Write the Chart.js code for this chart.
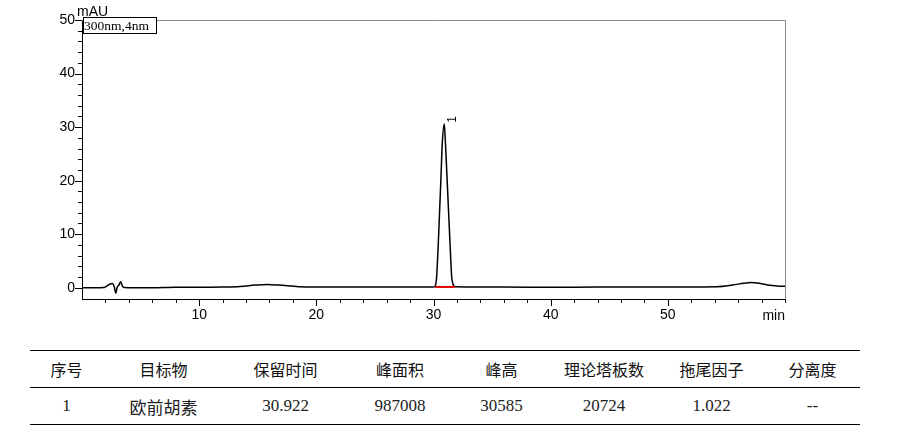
<!DOCTYPE html>
<html>
<head>
<meta charset="utf-8">
<script src="https://cdn.jsdelivr.net/npm/chart.js@4"></script>
<style>
  body { margin: 0; background: #fff; }
  #wrap { position: relative; width: 900px; height: 426px; }
  #chartBox { position: absolute; left: 0; top: 0; width: 900px; height: 330px; }
  table {
    position: absolute; left: 30px; top: 350px; width: 830px;
    border-collapse: collapse; table-layout: fixed;
    border-top: 1px solid #000; border-bottom: 1px solid #000;
  }
  td { text-align: center; padding: 0; height: 36px; color: #111; }
  tr.head td { font-family: "Noto Sans CJK SC", sans-serif; font-size: 16px; border-bottom: 1px solid #000; }
  tr.row td { font-family: "Liberation Serif", "Noto Sans CJK SC", serif; font-size: 17px; color: #222; }
</style>
</head>
<body>
<div id="wrap">
  <div id="chartBox"><canvas id="chromChart"></canvas></div>
  <table id="resultTable"></table>
</div>
<script>
// chromatogram trace (min, mAU)
const retentionTimes = [0, 1.0, 1.9, 2.1, 2.4, 2.6, 2.75, 2.88, 3.0, 3.15, 3.3, 3.45, 3.6, 4.5, 6, 8, 10, 12, 13.5, 14.8, 15.8, 16.8, 18.5, 20, 24, 28, 30.0,
  30.13, 30.22, 30.27, 30.41, 30.64, 30.75, 30.92, 31.02, 31.15, 31.41, 31.55, 31.65, 31.83,
  34, 38, 42, 46, 50, 54.2, 55.5, 56.5, 57.1, 57.8, 58.7, 59.5, 60];
const absorbance = [0, 0, 0.05, 0.3, 0.7, 0.8, 0.2, -1.0, 0.1, 0.5, 1.1, 0.3, 0.05, 0, 0, 0.1, 0.1, 0.15, 0.25, 0.5, 0.62, 0.5, 0.2, 0.15, 0.15, 0.15, 0.15,
  0.25, 1.0, 2.1, 8.3, 20.8, 27, 30.6, 27, 20.8, 8.3, 2.1, 0.8, 0.2,
  0.15, 0.1, 0.1, 0.15, 0.15, 0.2, 0.5, 0.85, 1.0, 0.85, 0.45, 0.3, 0.3];

// integration baseline under the peak
const baselineTimes = [30.13, 31.83];
const baselineValues = [0.15, 0.15];

// peak annotation
const peakNumbers = ['1'];
const peakTimes = [30.922];
const peakHeights = [30.585];

const xLabelTicks = [10, 20, 30, 40, 50];
const yLabelTicks = [0, 10, 20, 30, 40, 50];
const channelLabel = '300nm,4nm';

const tableHeaders = ['序号', '目标物', '保留时间', '峰面积', '峰高', '理论塔板数', '拖尾因子', '分离度'];
const tableRow = ['1', '欧前胡素', '30.922', '987008', '30585', '20724', '1.022', '--'];
const columnWidths = [73, 121, 123, 106, 97, 108, 107, 95];

// build the table
const table = document.getElementById('resultTable');
table.innerHTML =
  '<colgroup>' + columnWidths.map(w => `<col style="width:${w}px">`).join('') + '</colgroup>' +
  '<tr class="head">' + tableHeaders.map(h => `<td>${h}</td>`).join('') + '</tr>' +
  '<tr class="row">' + tableRow.map(v => `<td>${v}</td>`).join('') + '</tr>';

const tracePoints = retentionTimes.map((t, i) => ({ x: t, y: absorbance[i] }));
const baselinePoints = baselineTimes.map((t, i) => ({ x: t, y: baselineValues[i] }));

const axisFont = { family: 'Liberation Sans', size: 14 };

const decorations = {
  id: 'decorations',
  afterDraw(chart) {
    const { ctx, chartArea: a, scales: { x, y } } = chart;
    ctx.save();
    // frame top / right
    ctx.strokeStyle = '#8a8a8a';
    ctx.lineWidth = 1;
    ctx.beginPath();
    ctx.moveTo(a.left, a.top + 0.5);
    ctx.lineTo(a.right + 0.5, a.top + 0.5);
    ctx.lineTo(a.right + 0.5, a.bottom);
    ctx.stroke();

    // tick marks, longer at labelled values
    ctx.strokeStyle = '#000';
    ctx.beginPath();
    for (let v = 0; v <= 50; v += 2) {
      const py = Math.round(y.getPixelForValue(v)) + 0.5;
      const len = yLabelTicks.includes(v) ? 7 : 4;
      ctx.moveTo(a.left - len, py);
      ctx.lineTo(a.left, py);
    }
    for (let v = 2; v <= 60; v += 2) {
      const px = Math.round(x.getPixelForValue(v)) + 0.5;
      const len = xLabelTicks.includes(v) ? 7 : 4;
      ctx.moveTo(px, a.bottom);
      ctx.lineTo(px, a.bottom + len);
    }
    ctx.stroke();

    // axis units
    ctx.fillStyle = '#000';
    ctx.font = '14px "Liberation Sans"';
    ctx.textBaseline = 'alphabetic';
    ctx.textAlign = 'left';
    ctx.fillText('mAU', 77, 15.5);
    ctx.textAlign = 'right';
    ctx.fillText('min', a.right, 320);

    // channel box
    ctx.fillStyle = '#fff';
    ctx.fillRect(83, 17, 74, 17);
    ctx.strokeStyle = '#000';
    ctx.strokeRect(83.5, 17.5, 73, 16);
    ctx.fillStyle = '#000';
    ctx.font = '13.5px "Liberation Serif"';
    ctx.textAlign = 'left';
    ctx.fillText(channelLabel, 84, 30);

    // peak number, rotated
    ctx.font = '12px "Liberation Sans"';
    ctx.textAlign = 'center';
    ctx.textBaseline = 'middle';
    peakNumbers.forEach((label, i) => {
      const px = x.getPixelForValue(peakTimes[i]) + 8;
      const py = y.getPixelForValue(peakHeights[i]) - 4.5;
      ctx.save();
      ctx.translate(px, py);
      ctx.rotate(-Math.PI / 2);
      ctx.fillText(label, 0, 0);
      ctx.restore();
    });
    ctx.restore();
  }
};

new Chart(document.getElementById('chromChart'), {
  type: 'scatter',
  data: {
    datasets: [
      { data: baselinePoints, showLine: true, borderColor: '#e00000', borderWidth: 2, pointRadius: 0 },
      { data: tracePoints, showLine: true, borderColor: '#000', borderWidth: 1.5, pointRadius: 0, cubicInterpolationMode: 'monotone' }
    ]
  },
  options: {
    responsive: true,
    maintainAspectRatio: false,
    animation: false,
    layout: { padding: { top: 20, right: 115, bottom: 0, left: 0 } },
    plugins: { legend: { display: false }, tooltip: { enabled: false } },
    scales: {
      x: {
        type: 'linear', min: 0, max: 60,
        afterFit: s => { s.height = 31; },
        afterBuildTicks: s => { s.ticks = xLabelTicks.map(v => ({ value: v })); },
        grid: { display: false, drawTicks: false },
        border: { display: true, color: '#000', width: 1 },
        ticks: { font: axisFont, color: '#000', padding: 8, maxRotation: 0 }
      },
      y: {
        min: -2.1, max: 50,
        afterFit: s => { s.width = 82; },
        afterBuildTicks: s => { s.ticks = yLabelTicks.map(v => ({ value: v })); },
        grid: { display: false, drawTicks: false },
        border: { display: true, color: '#000', width: 1 },
        ticks: { font: axisFont, color: '#000', padding: 7 }
      }
    }
  },
  plugins: [decorations]
});
</script>
</body>
</html>
